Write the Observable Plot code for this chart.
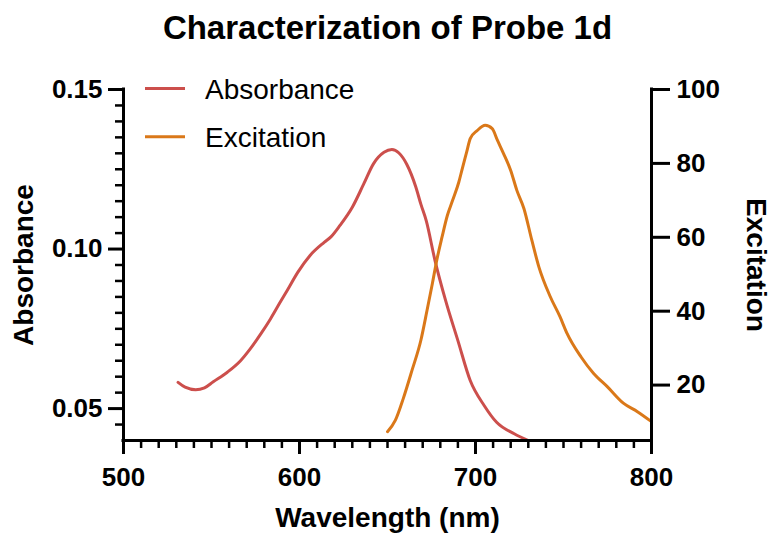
<!DOCTYPE html>
<html>
<head>
<meta charset="utf-8">
<script src="https://cdn.jsdelivr.net/npm/d3@7"></script>
<script src="https://cdn.jsdelivr.net/npm/@observablehq/plot@0.6"></script>
<style>
  html, body { margin: 0; padding: 0; background: #fff; }
  #chart svg { display: block; }
</style>
</head>
<body>
<div id="chart"></div>
<script>
// ---- Data ----
const absWavelength = [531, 535, 541, 546, 551, 559, 566.5, 572, 578, 583.5, 589, 593, 599, 606, 614, 618, 623, 630, 636.5, 642, 648, 652.5, 656.5, 661, 666, 669, 672, 677, 683, 690, 697, 705, 712, 722, 730];
const absValue = [0.0582, 0.0567, 0.0559, 0.0565, 0.0584, 0.0614, 0.0650, 0.0687, 0.0734, 0.0781, 0.0833, 0.0870, 0.0927, 0.0980, 0.1021, 0.1039, 0.1074, 0.1131, 0.1204, 0.1267, 0.1303, 0.1312, 0.1301, 0.1265, 0.1196, 0.1140, 0.1089, 0.0964, 0.0839, 0.0713, 0.0588, 0.0509, 0.0457, 0.0421, 0.0400];

const excWavelength = [650, 654.5, 659, 664, 669, 672.5, 675.5, 678, 681, 684, 687, 690.5, 692.5, 695, 697, 701, 705.5, 709.5, 712.5, 716, 720, 723.5, 727.5, 732, 736, 742.5, 748, 752, 760, 767, 775, 784, 792, 800];
const excValue = [7.4, 10.5, 16.4, 24.1, 32.2, 40.3, 47.5, 53.8, 60.1, 65.9, 70, 74.9, 78.6, 83.1, 86.7, 88.9, 90.3, 89.4, 86.2, 82.6, 78.1, 72.7, 67.8, 59.2, 52, 43.9, 38.5, 34, 27.6, 23.2, 19.5, 15.1, 12.8, 10.1];

const xMajorTicks = [500, 600, 700, 800];
const xMinorTicks = [510, 520, 530, 540, 550, 560, 570, 580, 590, 610, 620, 630, 640, 650, 660, 670, 680, 690, 710, 720, 730, 740, 750, 760, 770, 780, 790];
const absMajorTicks = [0.05, 0.10, 0.15];
const absMinorTicks = [0.045, 0.055, 0.06, 0.065, 0.07, 0.075, 0.08, 0.085, 0.09, 0.095, 0.105, 0.11, 0.115, 0.12, 0.125, 0.13, 0.135, 0.14, 0.145];
const excTicks = [20, 40, 60, 80, 100];

const xDomain = [500, 800];
const absDomain = [0.04, 0.15];
const excDomain = [5, 100];

const seriesNames = ["Absorbance", "Excitation"];
const seriesColors = ["#cc4f4c", "#da7819"];

// ---- Dual-axis mapping (excitation -> absorbance space) ----
const excToAbs = e => absDomain[0] + (e - excDomain[0]) * (absDomain[1] - absDomain[0]) / (excDomain[1] - excDomain[0]);
const absToExc = a => excDomain[0] + (a - absDomain[0]) * (excDomain[1] - excDomain[0]) / (absDomain[1] - absDomain[0]);

const absData = absWavelength.map((w, i) => ({w, v: absValue[i]}));
const excData = excWavelength.map((w, i) => ({w, v: excToAbs(excValue[i])}));

const font = "'Liberation Sans', Arial, Helvetica, sans-serif";

const chart = Plot.plot({
  width: 771,
  height: 533,
  marginLeft: 123,
  marginRight: 120,
  marginTop: 89,
  marginBottom: 93,
  style: {fontFamily: font, color: "#000", background: "#fff", overflow: "visible"},
  x: {domain: xDomain, label: null},
  y: {domain: absDomain, label: null},
  marks: [
    // data lines
    Plot.line(absData, {x: "w", y: "v", curve: "monotone-x", stroke: seriesColors[0], strokeWidth: 3, strokeLinejoin: "round", strokeLinecap: "round"}),
    Plot.line(excData, {x: "w", y: "v", curve: "monotone-x", stroke: seriesColors[1], strokeWidth: 3, strokeLinejoin: "round", strokeLinecap: "round"}),
    // axis lines
    Plot.ruleX([xDomain[0]], {stroke: "#000", strokeWidth: 3, strokeLinecap: "square"}),
    Plot.ruleX([xDomain[1]], {stroke: "#000", strokeWidth: 3, strokeLinecap: "square"}),
    Plot.ruleY([absDomain[0]], {stroke: "#000", strokeWidth: 3, strokeLinecap: "square"}),
    // x axis
    Plot.axisX(xMajorTicks, {anchor: "bottom", tickSize: 14, strokeWidth: 3, tickPadding: 13, fontSize: 26, fontWeight: "bold", label: null, tickFormat: d => String(d)}),
    Plot.axisX(xMinorTicks, {anchor: "bottom", tickSize: 8, strokeWidth: 2.5, tickFormat: () => "", label: null}),
    // left y axis
    Plot.axisY(absMajorTicks, {anchor: "left", tickSize: 15, strokeWidth: 3, tickPadding: 6, fontSize: 26, fontWeight: "bold", label: null, tickFormat: d3.format(".2f")}),
    Plot.axisY(absMinorTicks, {anchor: "left", tickSize: 8, strokeWidth: 2.5, tickFormat: () => "", label: null}),
    // right y axis (excitation)
    Plot.axisY(excTicks.map(excToAbs), {anchor: "right", tickSize: 18, strokeWidth: 3, tickPadding: 7, fontSize: 26, fontWeight: "bold", label: null, tickFormat: d => String(Math.round(absToExc(d)))}),
    // titles
    Plot.text(["Characterization of Probe 1d"], {text: d => d, frameAnchor: "top", textAnchor: "middle", dy: -61, lineAnchor: "middle", fontSize: 33, fontWeight: "bold", fill: "#000"}),
    Plot.text(["Wavelength (nm)"], {text: d => d, frameAnchor: "bottom", textAnchor: "middle", dy: 78, lineAnchor: "middle", fontSize: 28, fontWeight: "bold", fill: "#000"}),
    Plot.text(["Absorbance"], {text: d => d, frameAnchor: "left", textAnchor: "middle", dx: -99, rotate: -90, lineAnchor: "middle", fontSize: 28, fontWeight: "bold", fill: "#000"}),
    Plot.text(["Excitation"], {text: d => d, frameAnchor: "right", textAnchor: "middle", dx: 104, rotate: 90, lineAnchor: "middle", fontSize: 28, fontWeight: "bold", fill: "#000"})
  ]
});

// ---- Legend (inside plot, top-left) ----
const svg = d3.select(chart);
const legend = svg.append("g").attr("font-family", font).attr("text-anchor", "start");
seriesNames.forEach((name, i) => {
  const y = 88.5 + i * 48.3;
  legend.append("line")
    .attr("x1", 145).attr("x2", 185).attr("y1", y).attr("y2", y)
    .attr("stroke", seriesColors[i]).attr("stroke-width", 3);
  legend.append("text")
    .attr("x", 205).attr("y", y + 10.5)
    .attr("text-anchor", "start")
    .attr("font-size", 28).attr("fill", "#000")
    .text(name);
});

document.getElementById("chart").appendChild(chart);
</script>
</body>
</html>
